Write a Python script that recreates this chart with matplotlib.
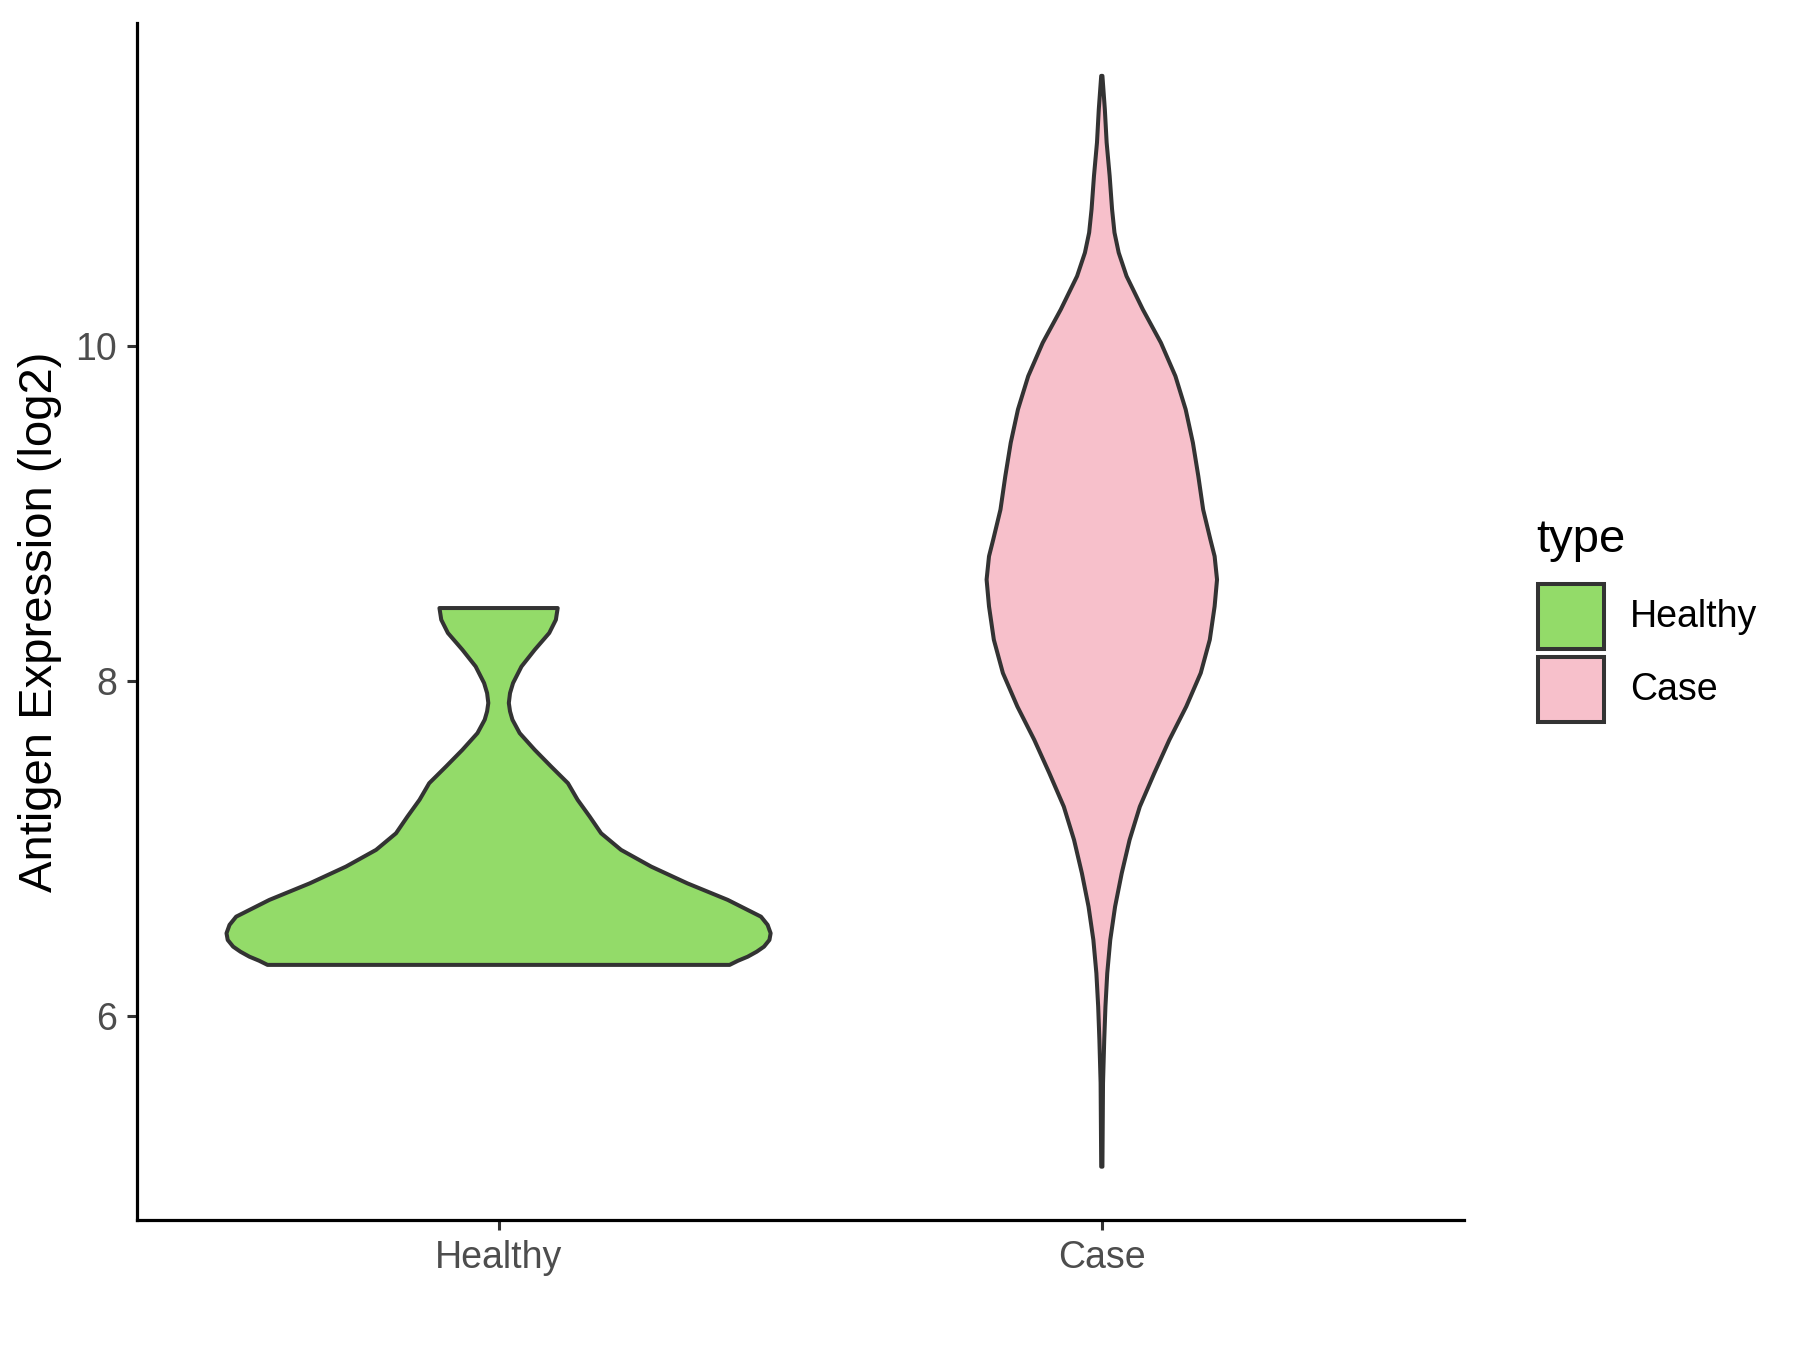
import matplotlib
matplotlib.use("Agg")
import matplotlib.pyplot as plt
import numpy as np
from matplotlib.patches import Rectangle

plt.rcParams['font.family'] = ['Liberation Sans', 'DejaVu Sans']

categories = ["Healthy", "Case"]
colors = ["#93DB69", "#F7C0CB"]
edge = "#333333"

# violin profiles: expression level (log2) and half-width (in category units)
healthy_y = [8.436, 8.366, 8.287, 8.187, 8.087, 7.988, 7.928, 7.869, 7.819, 7.769,
             7.689, 7.589, 7.490, 7.390, 7.291, 7.191, 7.091, 6.992, 6.892, 6.792,
             6.693, 6.593, 6.544, 6.494, 6.454, 6.414, 6.384, 6.354, 6.330, 6.305]
healthy_hw = [0.098, 0.095, 0.084, 0.060, 0.038, 0.024, 0.019, 0.017, 0.019, 0.023,
              0.035, 0.060, 0.087, 0.115, 0.131, 0.151, 0.170, 0.203, 0.253, 0.313,
              0.380, 0.435, 0.446, 0.451, 0.449, 0.440, 0.428, 0.413, 0.397, 0.383]

case_y = [11.614, 11.415, 11.216, 11.016, 10.817, 10.678, 10.558, 10.418, 10.219, 10.020,
          9.821, 9.622, 9.423, 9.223, 9.024, 8.845, 8.745, 8.606, 8.446, 8.247,
          8.048, 7.848, 7.649, 7.450, 7.250, 7.051, 6.852, 6.653, 6.454, 6.255,
          6.055, 5.856, 5.600, 5.100]
case_hw = [0.001, 0.005, 0.008, 0.013, 0.017, 0.021, 0.028, 0.041, 0.068, 0.098,
           0.122, 0.139, 0.151, 0.160, 0.168, 0.180, 0.187, 0.191, 0.187, 0.179,
           0.164, 0.140, 0.112, 0.087, 0.063, 0.046, 0.033, 0.022, 0.014, 0.009,
           0.006, 0.004, 0.002, 0.001]

yticks = [6, 8, 10]
ylabel = "Antigen Expression (log2)"
legend_title = "type"

profiles = [(healthy_y, healthy_hw), (case_y, case_hw)]

fig = plt.figure(figsize=(9, 6.75), dpi=200)
ax = fig.add_axes([0.0759, 0.0961, 0.8132 - 0.0759, 0.983 - 0.0961])

for i, ((ys, hw), col) in enumerate(zip(profiles, colors)):
    pos = i + 1
    ys = np.asarray(ys)
    hw = np.asarray(hw)
    xs = np.concatenate([pos - hw, (pos + hw)[::-1]])
    yy = np.concatenate([ys, ys[::-1]])
    ax.fill(xs, yy, facecolor=col, edgecolor=edge, linewidth=1.45, joinstyle='round')

ax.set_xlim(0.4, 2.6)
ax.set_ylim(4.78, 11.93)
ax.set_xticks([1, 2])
ax.set_xticklabels(categories)
ax.set_yticks(yticks)
ax.set_yticklabels([str(t) for t in yticks])
ax.set_ylabel(ylabel, fontsize=17, labelpad=5)

for s in ['top', 'right']:
    ax.spines[s].set_visible(False)
for s in ['left', 'bottom']:
    ax.spines[s].set_linewidth(1.15)
    ax.spines[s].set_color('black')
ax.tick_params(axis='both', length=3.5, width=1.1, color='#333333',
               labelcolor='#4D4D4D', labelsize=13.5, pad=3.5)

# legend
W, H = 1800, 1350
def fx(px): return px / W
def fy(py): return 1 - py / H
fig.text(fx(1536), fy(540), legend_title, fontsize=17, va='center', ha='left')
box_tops = [584, 657]
for col, lab, top in zip(colors, categories, box_tops):
    fig.add_artist(Rectangle((fx(1538), fy(top + 65)), fx(66), 65 / H,
                             transform=fig.transFigure, facecolor=col,
                             edgecolor=edge, linewidth=1.45))
    fig.text(fx(1630), fy(top + 33), lab, fontsize=13.5, va='center', ha='left')

fig.savefig("out.png", dpi=200)
